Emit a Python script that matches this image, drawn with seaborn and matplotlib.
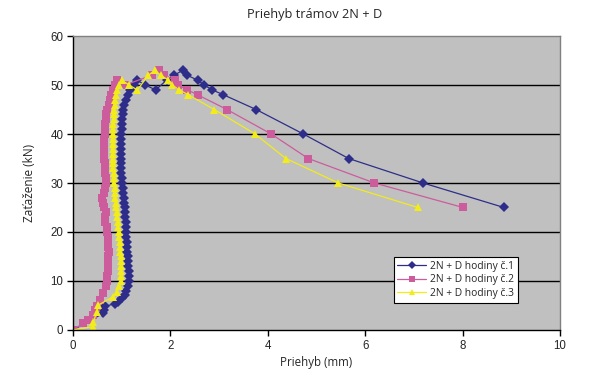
import pandas as pd
import matplotlib
matplotlib.use("Agg")
import matplotlib.pyplot as plt
import seaborn as sns

# series 1: 2N + D hodiny c.1 (deflection mm, load kN)
load1 = [0, 3.4, 4.0, 4.8, 5.4, 5.8, 6.5, 7.1,
         8, 9, 10, 11, 12, 13, 14, 15, 16, 17,
         18, 19, 20, 21, 22, 23, 24, 25, 26, 27,
         28, 29, 30, 31, 32, 33, 34, 35, 36, 37,
         38, 39, 40, 41, 42, 43, 44, 45, 46, 47,
         48, 49, 50, 51,
         50, 49, 51, 52, 53, 52, 51, 50, 49, 48, 45, 40, 35, 30, 25]
defl1 = [0, 0.62, 0.64, 0.66, 0.86, 0.93, 1.00, 1.07,
         1.09, 1.12, 1.15, 1.15, 1.14, 1.13, 1.12, 1.12, 1.11, 1.10,
         1.10, 1.09, 1.09, 1.08, 1.08, 1.07, 1.07, 1.06, 1.05, 1.04,
         1.03, 1.02, 1.01, 1.00, 0.99, 0.98, 0.98, 0.98, 0.98, 0.98,
         0.98, 0.99, 0.99, 1.00, 1.00, 1.01, 1.02, 1.03, 1.05, 1.08,
         1.12, 1.18, 1.25, 1.31,
         1.48, 1.70, 1.92, 2.08, 2.25, 2.34, 2.56, 2.69, 2.86, 3.09, 3.76, 4.73, 5.66, 7.19, 8.85]

# series 2: 2N + D hodiny c.2
load2 = [0, 1.4, 2.0, 3.1, 4.0, 4.8, 6.1, 7.5,
         9, 10, 11, 12, 13, 14, 15, 16, 17, 18,
         19, 20, 21, 22, 23, 24, 25, 26, 27, 28,
         29, 30, 31, 32, 33, 34, 35, 36, 37, 38,
         39, 40, 41, 42, 43, 44, 45, 46, 47, 48,
         49, 50, 51,
         50, 52, 53, 52, 51, 50, 49, 48, 45, 40, 35, 30, 25]
defl2 = [0, 0.21, 0.31, 0.42, 0.46, 0.49, 0.55, 0.62,
         0.67, 0.69, 0.70, 0.71, 0.72, 0.72, 0.72, 0.73, 0.72, 0.72,
         0.71, 0.70, 0.69, 0.66, 0.65, 0.68, 0.63, 0.61, 0.60, 0.63,
         0.66, 0.67, 0.67, 0.66, 0.65, 0.65, 0.64, 0.64, 0.64, 0.64,
         0.64, 0.65, 0.65, 0.66, 0.67, 0.68, 0.70, 0.73, 0.76, 0.79,
         0.83, 0.87, 0.90,
         1.07, 1.62, 1.77, 1.87, 2.09, 2.16, 2.35, 2.56, 3.16, 4.07, 4.83, 6.19, 8.01]

# series 3: 2N + D hodiny c.3
load3 = [0, 0.7, 1.7, 3.7, 5.1, 6.8, 7.8, 9,
         10, 11, 12, 13, 14, 15, 16, 17, 18, 19,
         20, 21, 22, 23, 24, 25, 26, 27, 28, 29,
         30, 31, 32, 33, 34, 35, 36, 37, 38, 39,
         40, 41, 42, 43, 44, 45, 46, 47, 48, 49,
         50, 51,
         50, 49, 52, 53, 52, 51, 50, 49, 48, 45, 40, 35, 30, 25]
defl3 = [0, 0.42, 0.42, 0.49, 0.52, 0.83, 0.90, 0.95,
         0.98, 0.99, 0.99, 0.99, 0.98, 0.98, 0.97, 0.97, 0.96, 0.95,
         0.94, 0.93, 0.93, 0.91, 0.90, 0.89, 0.88, 0.87, 0.86, 0.86,
         0.85, 0.84, 0.84, 0.83, 0.83, 0.83, 0.83, 0.82, 0.83, 0.83,
         0.83, 0.83, 0.83, 0.84, 0.85, 0.85, 0.86, 0.87, 0.89, 0.90,
         0.95, 1.00,
         1.15, 1.32, 1.55, 1.68, 1.80, 1.96, 2.04, 2.18, 2.37, 2.90, 3.74, 4.37, 5.45, 7.08]

names = ["2N + D hodiny č.1", "2N + D hodiny č.2", "2N + D hodiny č.3"]
colors = ["#2E2E8A", "#CC5C9C", "#F2EC1A"]
marker_kinds = ["D", "s", "^"]
marker_sizes = [5.5, 5.5, 6.0]

frames = []
for name, x, y in zip(names, [defl1, defl2, defl3], [load1, load2, load3]):
    d = pd.DataFrame({"defl": x, "load": y})
    d["series"] = name
    frames.append(d)
df = pd.concat(frames, ignore_index=True)

sns.set_style("white")
plt.rcParams["font.family"] = ["Liberation Sans", "DejaVu Sans"]

fig = plt.figure(figsize=(6, 3.79), dpi=100)
ax = fig.add_axes([0.1217, 0.1293, 0.8116, 0.7757])
ax.set_facecolor("#C0C0C0")

sns.lineplot(data=df, x="defl", y="load", hue="series", style="series",
             units="series", estimator=None, sort=False,
             palette=colors, markers=marker_kinds, dashes=False,
             linewidth=0.9, markersize=5.5, markeredgewidth=0,
             ax=ax)
for line, ms in zip(ax.lines, marker_sizes):
    line.set_markersize(ms)

ax.set_xlim(0, 10)
ax.set_ylim(0, 60)
ax.set_xticks(range(0, 11, 2))
ax.set_yticks(range(0, 61, 10))
for yv in range(10, 60, 10):
    ax.axhline(yv, color="black", linewidth=1.0, zorder=0.5)
ax.tick_params(axis="both", direction="out", length=4, width=1, color="black",
               labelsize=8.3, pad=3, bottom=True, left=True)
for side in ["left", "bottom"]:
    ax.spines[side].set_color("black")
    ax.spines[side].set_linewidth(1.0)
for side in ["top", "right"]:
    ax.spines[side].set_color("#808080")
    ax.spines[side].set_linewidth(1.0)

lab_font = ["Open Sans", "DejaVu Sans"]
ax.set_xlabel("Priehyb (mm)", fontsize=8.3, family=lab_font, labelpad=3)
ax.set_ylabel("Zaťaženie (kN)", fontsize=8.5, family=lab_font, labelpad=10)
fig.text(0.525, 0.962, "Priehyb trámov 2N + D", ha="center", va="center",
         fontsize=9.2, family=lab_font)

leg = ax.legend(loc="lower right", bbox_to_anchor=(0.913, 0.093), frameon=True,
                fancybox=False, framealpha=1, edgecolor="black",
                prop={"family": lab_font, "size": 7.4}, handlelength=2.8,
                borderpad=0.35, labelspacing=0.25, handletextpad=0.4,
                borderaxespad=0)
leg.get_frame().set_linewidth(0.8)
for h in leg.legend_handles:
    h.set_markersize(4.5)

fig.savefig("out.png", dpi=100)
